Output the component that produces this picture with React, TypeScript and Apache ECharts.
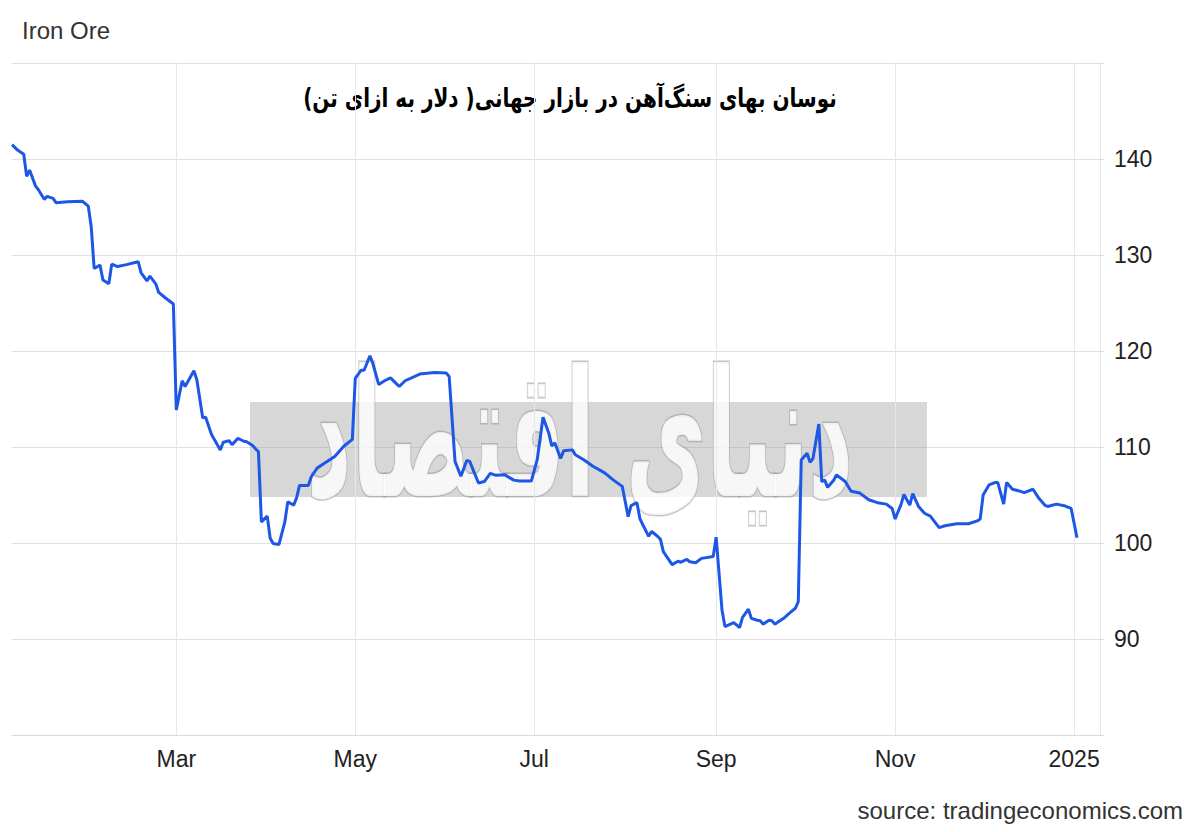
import React, { useEffect, useRef } from 'react';
import * as echarts from 'echarts';

const dates: string[] = [
  '2024-01-05','2024-01-07','2024-01-09','2024-01-10','2024-01-11','2024-01-13','2024-01-14','2024-01-16','2024-01-17','2024-01-19',
  '2024-01-20','2024-01-24','2024-01-29','2024-01-31','2024-02-01','2024-02-02','2024-02-04','2024-02-05','2024-02-07','2024-02-08',
  '2024-02-10','2024-02-13','2024-02-17','2024-02-18','2024-02-20','2024-02-21','2024-02-23','2024-02-24','2024-02-26','2024-02-29',
  '2024-03-01','2024-03-03','2024-03-04','2024-03-07','2024-03-08','2024-03-10','2024-03-11','2024-03-13','2024-03-16','2024-03-17',
  '2024-03-19','2024-03-20','2024-03-22','2024-03-24','2024-03-25','2024-03-27','2024-03-29','2024-03-30','2024-04-01','2024-04-02',
  '2024-04-03','2024-04-05','2024-04-07','2024-04-08','2024-04-10','2024-04-11','2024-04-12','2024-04-15','2024-04-16','2024-04-18',
  '2024-04-21','2024-04-24','2024-04-27','2024-04-30','2024-05-01','2024-05-03','2024-05-04','2024-05-06','2024-05-07','2024-05-09',
  '2024-05-11','2024-05-13','2024-05-15','2024-05-16','2024-05-18','2024-05-23','2024-05-28','2024-06-01','2024-06-02','2024-06-04',
  '2024-06-06','2024-06-08','2024-06-09','2024-06-12','2024-06-14','2024-06-16','2024-06-18','2024-06-21','2024-06-24','2024-06-26',
  '2024-06-30','2024-07-02','2024-07-04','2024-07-06','2024-07-07','2024-07-08','2024-07-10','2024-07-11','2024-07-14','2024-07-15',
  '2024-07-18','2024-07-21','2024-07-25','2024-07-28','2024-07-31','2024-08-02','2024-08-03','2024-08-05','2024-08-06','2024-08-07',
  '2024-08-09','2024-08-10','2024-08-12','2024-08-13','2024-08-14','2024-08-17','2024-08-19','2024-08-20','2024-08-22','2024-08-23',
  '2024-08-25','2024-08-27','2024-08-31','2024-09-01','2024-09-03','2024-09-04','2024-09-07','2024-09-09','2024-09-10','2024-09-12',
  '2024-09-13','2024-09-15','2024-09-16','2024-09-17','2024-09-19','2024-09-20','2024-09-21','2024-09-24','2024-09-26','2024-09-28',
  '2024-09-29','2024-09-30','2024-10-02','2024-10-03','2024-10-04','2024-10-06','2024-10-07','2024-10-08','2024-10-09','2024-10-11',
  '2024-10-12','2024-10-15','2024-10-17','2024-10-20','2024-10-23','2024-10-26','2024-10-29','2024-10-31','2024-11-01','2024-11-03',
  '2024-11-04','2024-11-06','2024-11-07','2024-11-09','2024-11-11','2024-11-13','2024-11-16','2024-11-18','2024-11-22','2024-11-26',
  '2024-11-29','2024-11-30','2024-12-01','2024-12-03','2024-12-05','2024-12-06','2024-12-08','2024-12-09','2024-12-11','2024-12-13',
  '2024-12-15','2024-12-18','2024-12-20','2024-12-22','2024-12-23','2024-12-26','2024-12-29','2024-12-31','2025-01-02',
];

const prices: number[] = [
  141.5,140.9,140.5,138.2,138.85,137.2,136.8,135.8,136.1,135.9,
  135.45,135.55,135.6,135.1,132.95,128.6,128.95,127.4,127.0,129.05,
  128.8,129.0,129.3,128.15,127.3,127.8,127.0,126.1,125.6,124.9,
  113.85,116.9,116.3,117.95,117.0,113.05,113.1,111.3,109.7,110.5,
  110.65,110.25,110.9,110.6,110.55,110.15,109.5,102.2,102.8,100.5,
  99.95,99.85,102.2,104.3,103.95,104.7,106.0,106.0,106.9,107.8,
  108.4,109.0,110.05,110.8,117.15,118.0,118.0,119.5,118.7,116.5,
  116.9,117.2,116.6,116.3,116.9,117.6,117.75,117.7,117.35,108.5,
  106.95,108.6,108.5,106.25,106.4,107.25,107.05,107.1,106.55,106.45,
  106.45,108.65,113.1,111.4,110.1,110.45,108.8,109.6,109.7,109.2,
  108.65,108.0,107.3,106.55,105.9,102.75,103.9,104.2,102.55,101.9,
  100.7,101.2,100.7,100.4,99.1,97.75,98.1,98.0,98.3,98.05,
  97.95,98.4,98.6,100.6,93.0,91.3,91.7,91.2,92.25,93.1,
  92.15,91.95,91.9,91.55,91.95,91.9,91.55,92.15,92.7,93.2,
  93.9,108.65,109.35,108.4,108.8,112.4,106.4,106.55,105.8,106.5,
  107.1,106.4,105.4,105.2,104.5,104.2,104.05,103.6,102.5,104.0,
  105.05,103.95,105.15,103.8,103.1,102.8,101.6,101.8,102.0,102.0,
  102.3,102.5,105.0,106.05,106.3,106.3,104.05,106.3,105.6,105.45,
  105.25,105.6,104.65,103.95,103.8,104.05,103.85,103.6,100.55,
];

const monthTicks: string[] = ['2024-03-01', '2024-05-01', '2024-07-01', '2024-09-01', '2024-11-01', '2025-01-01'];
const monthLabels: string[] = ['Mar', 'May', 'Jul', 'Sep', 'Nov', '2025'];

const chartTitle = 'Iron Ore';
const persianTitle = 'نوسان بهای سنگ\u200cآهن در بازار جهانی( دلار به ازای تن)\u200f';
const sourceText = 'source: tradingeconomics.com';

export default function App() {
  const ref = useRef<HTMLDivElement>(null);
  useEffect(() => {
    if (!ref.current) return;
    const chart = echarts.init(ref.current, null, { renderer: 'svg' });
    const t = (s: string) => (echarts as any).time.parse(s).getTime();
    const seriesData = dates.map((d, i) => [t(d), prices[i]]);
    const xMin = t('2024-01-05');
    const xMax = t('2025-01-09') + 20 * 3600 * 1000;
    const font = '"Liberation Sans", Arial, sans-serif';

    chart.setOption({
      animation: false,
      backgroundColor: '#ffffff',
      grid: { left: 12, right: 100, top: 63, bottom: 97, containLabel: false },
      xAxis: {
        type: 'time',
        min: xMin,
        max: xMax,
        axisLine: { show: true, lineStyle: { color: '#d9d9d9', width: 1 } },
        axisTick: { show: false },
        axisLabel: { show: false },
        splitLine: { show: false },
      },
      yAxis: {
        type: 'value',
        position: 'right',
        min: 80,
        max: 150,
        interval: 10,
        axisLine: { show: true, lineStyle: { color: '#e3e6e8', width: 1 } },
        axisTick: { show: true, length: 4, lineStyle: { color: '#dddddd' } },
        axisLabel: {
          margin: 14,
          fontSize: 23,
          color: '#222',
          fontFamily: font,
          formatter: (v: number) => (v === 80 || v === 150 ? '' : String(v)),
        },
        splitLine: { show: true, lineStyle: { color: '#e0e0e0', width: 1 } },
      },
      graphic: [
        {
          type: 'text', left: 22, top: 18, z: 1,
          style: { text: chartTitle, font: `24px ${font}`, fill: '#333' },
        },
        {
          type: 'text', x: 570, y: 97, scaleY: 1.3, z: 1,
          style: {
            text: persianTitle, font: 'bold 20px "DejaVu Sans", sans-serif', fill: '#000',
            textAlign: 'center', textVerticalAlign: 'middle',
          },
        },
        {
          type: 'text', x: 1183, y: 810, z: 1,
          style: { text: sourceText, font: `24px ${font}`, fill: '#333', textAlign: 'right', textVerticalAlign: 'middle' },
        },
        {
          type: 'rect', left: 250, top: 402, z: 1,
          shape: { width: 677, height: 95 },
          style: { fill: 'rgba(150,150,150,0.38)' },
        },
        {
          type: 'text', x: 580, y: 435, scaleY: 2.0, z: 1,
          style: {
            text: 'دنیای اقتصاد', font: 'bold 88px "DejaVu Sans", sans-serif',
            fill: 'rgba(255,255,255,0.8)', stroke: 'rgba(150,150,150,0.55)', lineWidth: 1.5,
            textAlign: 'center', textVerticalAlign: 'middle',
          },
        },
        {
          type: 'group', x: 667, y: 414, rotation: 0.09, z: 1,
          children: [
            {
              type: 'rect', shape: { x: -68, y: -16, width: 136, height: 32 },
              style: { fill: 'rgba(255,255,255,0.15)', stroke: 'rgba(255,255,255,0.95)', lineWidth: 2 },
            },
            {
              type: 'text', x: 0, y: 0,
              style: {
                text: 'روزنامه صبح ایران', font: '15px "DejaVu Sans", sans-serif', fill: '#ffffff',
                textAlign: 'center', textVerticalAlign: 'middle',
              },
            },
          ],
        },
      ],
      series: [
        {
          type: 'line',
          name: 'grid-months',
          data: [],
          z: 1,
          silent: true,
          markLine: {
            silent: true,
            symbol: ['none', 'none'],
            lineStyle: { color: '#e3e9ee', type: 'solid', width: 1 },
            label: {
              show: true,
              position: 'start',
              distance: 12,
              fontSize: 23,
              color: '#222',
              fontFamily: font,
              formatter: (p: any) => p.name,
            },
            data: monthTicks.map((m, i) => ({ name: monthLabels[i], xAxis: t(m) })),
          },
        },
        {
          type: 'line',
          name: 'Iron Ore',
          data: seriesData,
          z: 10,
          showSymbol: false,
          symbol: 'none',
          lineStyle: { color: '#1c57e6', width: 3 },
          itemStyle: { color: '#1c57e6' },
        },
      ],
    });
    return () => chart.dispose();
  }, []);
  return <div ref={ref} style={{ position: 'absolute', left: 0, top: 0, width: 1200, height: 832 }} />;
}
